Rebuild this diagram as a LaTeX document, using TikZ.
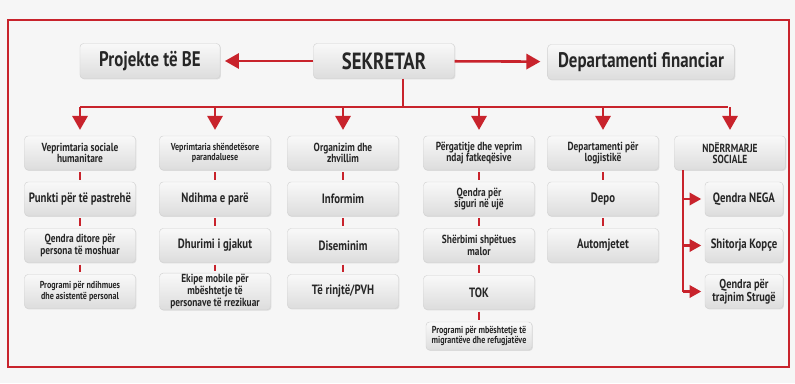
\documentclass[tikz,border=0pt]{standalone}
\usepackage{fontspec}
\setmainfont{PT Sans}[FakeStretch=0.8]
\usetikzlibrary{arrows.meta,shadows}
\definecolor{orgred}{HTML}{C8232C}
\definecolor{boxtext}{HTML}{262626}
\tikzset{>={Triangle[width=13pt,length=12pt]}}
\tikzset{
  box/.style={rounded corners=3pt, draw=gray!35, top color=gray!5, bottom color=gray!27,
    text=boxtext, align=center, font=\bfseries\fontsize{10}{10}\selectfont, inner sep=1pt,
    minimum width=3.33cm, minimum height=1.02cm,
    drop shadow={opacity=0.2,shadow xshift=0.8pt,shadow yshift=-0.8pt}},
  topbox/.style={box, minimum height=1.05cm, font=\bfseries\fontsize{18}{20}\selectfont},
  bigtxt/.style={font=\bfseries\fontsize{11.5}{12}\selectfont},
  smalltxt/.style={font=\bfseries\fontsize{8.6}{9}\selectfont},
  link/.style={orgred, line width=2pt, shorten >=1.6pt, shorten <=1.6pt},
  feed/.style={orgred, line width=2.2pt, ->},
  sidefeed/.style={orgred, line width=2.2pt, -{Triangle[width=10.5pt,length=10pt]}, shorten >=3pt},
}

\begin{document}
\begin{tikzpicture}[x=0.03cm,y=-0.03cm]
	\fill[gray!7] (0,0) rectangle (795,383);
	\useasboundingbox (0,0) rectangle (795,383);
	\draw[orgred, line width=2.2pt] (8,20) rectangle (789,367);

	% top row
	\node[topbox, minimum width=4.23cm, font=\bfseries\fontsize{20}{22}\selectfont] (sek) at (384,61) {SEKRETAR};
	\node[topbox, minimum width=4.2cm] (proj) at (150,61) {Projekte të BE};
	\node[topbox, minimum width=5.6cm] (fin) at (641,62) {Departamenti financiar};
	\draw[feed, shorten >=4pt] (sek) -- (proj);
	\draw[feed, shorten >=6pt] (sek) -- (fin);

	% bus
	\coordinate (busL) at (80,107);
	\coordinate (busR) at (728,107);
	\coordinate (stem) at (403,107);
	\draw[orgred, line width=2.2pt] (busL) -- (busR);
	\draw[orgred, line width=2.2pt] (sek.south -| stem) -- (stem);

	% column 1
	\node[box] (soc) at (80,153) {Veprimtaria sociale\\humanitare};
	\node[box, bigtxt] (strehe) at (80,199) {Punkti për të pastrehë};
	\node[box] (ditore) at (80,245.5) {Qendra ditore për\\persona të moshuar};
	\node[box, smalltxt] (asist) at (80,291.5) {Programi për ndihmues\\dhe asistentë personal};
	\draw[link] (soc) -- (strehe);
	\draw[link] (strehe) -- (ditore);
	\draw[link] (ditore) -- (asist);

	% column 2
	\node[box, smalltxt] (shend) at (215,153) {Veprimtaria shëndetësore\\parandaluese};
	\node[box, bigtxt] (ndihma) at (215,199) {Ndihma e parë};
	\node[box, bigtxt] (gjak) at (215,245.5) {Dhurimi i gjakut};
	\node[box] (ekipe) at (215,291.5) {Ekipe mobile për\\mbështetje të\\personave të rrezikuar};
	\draw[link] (shend) -- (ndihma);
	\draw[link] (ndihma) -- (gjak);
	\draw[link] (gjak) -- (ekipe);

	% column 3
	\node[box] (org) at (343,153) {Organizim dhe\\zhvillim};
	\node[box, bigtxt] (info) at (343,199) {Informim};
	\node[box, bigtxt] (disem) at (343,245.5) {Diseminim};
	\node[box, bigtxt] (rinj) at (343,291.5) {Të rinjtë/PVH};
	\draw[link] (org) -- (info);
	\draw[link] (info) -- (disem);
	\draw[link] (disem) -- (rinj);

	% column 4
	\node[box] (fatk) at (479,153) {Përgatitje dhe veprim\\ndaj fatkeqësive};
	\node[box] (uje) at (479,199) {Qendra për\\siguri në ujë};
	\node[box] (malor) at (479,245.5) {Shërbimi shpëtues\\malor};
	\node[box, bigtxt] (tok) at (479,292.5) {TOK};
	\node[box, smalltxt, minimum width=3.18cm, minimum height=0.84cm] (migr) at (479,336) {Programi për mbështetje të\\migrantëve dhe refugjatëve};
	\draw[link] (fatk) -- (uje);
	\draw[link] (uje) -- (malor);
	\draw[link] (malor) -- (tok);
	\draw[link] (tok) -- (migr);

	% column 5
	\node[box] (logj) at (603,153) {Departamenti për\\logjistikë};
	\node[box, bigtxt] (depo) at (603,199) {Depo};
	\node[box, bigtxt] (auto) at (603,245.5) {Automjetet};
	\draw[link] (logj) -- (depo);
	\draw[link] (depo) -- (auto);

	% column 6
	\node[box] (ndr) at (730,153) {NDËRRMARJE\\SOCIALE};
	\node[box, bigtxt, minimum width=2.34cm] (nega) at (744,199) {Qendra NEGA};
	\node[box, bigtxt, minimum width=2.34cm] (kopce) at (744,245.5) {Shitorja Kopçe};
	\node[box, minimum width=2.34cm, font=\bfseries\fontsize{11}{11}\selectfont] (struge) at (744,291.5) {Qendra për\\trajnim Strugë};
	\coordinate (trunk) at (683,292);
	\draw[orgred, line width=2.2pt] (ndr.south -| trunk) -- (trunk);
	\draw[sidefeed] (nega.west -| trunk) -- (nega.west);
	\draw[sidefeed] (kopce.west -| trunk) -- (kopce.west);
	\draw[sidefeed] (struge.west -| trunk) -- (struge.west);

	% arrows from bus
	\foreach \col in {soc,shend,org,fatk,logj,ndr}
		\draw[feed, shorten >=5pt] (\col.north |- busL) -- (\col.north);
\end{tikzpicture}
\end{document}
